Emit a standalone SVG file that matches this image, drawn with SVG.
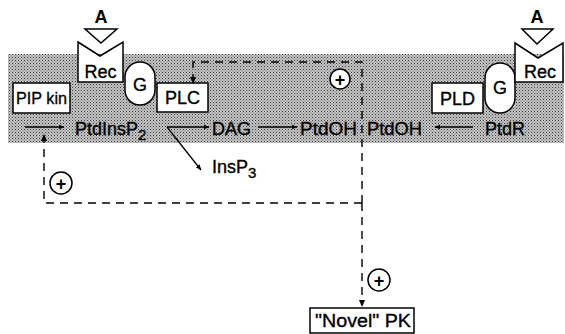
<svg xmlns="http://www.w3.org/2000/svg" width="565" height="334" viewBox="0 0 565 334">
<defs>
<marker id="ah" viewBox="0 0 10 10" refX="9" refY="5" markerWidth="6" markerHeight="6" markerUnits="userSpaceOnUse" orient="auto">
<path d="M0,1 L10,5 L0,9 z" fill="#000"/>
</marker>
<pattern id="dots" width="3" height="3" patternUnits="userSpaceOnUse">
<rect width="3" height="3" fill="#c4c4c4"/>
<rect width="1" height="1" fill="#3a3a3a"/>
<rect x="1.5" y="1.5" width="1" height="1" fill="#666"/>
</pattern>
<style>
text{font-family:"Liberation Sans",Arial,sans-serif;fill:#000}
.box{fill:#fff;stroke:#000;stroke-width:1.5}
.ln{fill:none;stroke:#000;stroke-width:1.3}
.dash{fill:none;stroke:#000;stroke-width:1.4;stroke-dasharray:8 6}
.lbl{font-size:18px;stroke:#000;stroke-width:0.35}
.sm{font-size:16px;stroke:#000;stroke-width:0.3}
.pl{font-size:18px;font-weight:bold}
</style>
</defs>
<rect x="8" y="54" width="556" height="89" fill="url(#dots)"/>

<g id="rec-left">
<path class="box" d="M78,42 L100,56 L123,42 L123,82 L78,82 Z"/>
<text class="lbl" x="100.5" y="78" text-anchor="middle">Rec</text>
</g>
<g id="agonist-left">
<path class="box" d="M85,29 L117,29 L101,43 Z"/>
<text x="101" y="23" font-size="18" font-weight="bold" text-anchor="middle">A</text>
</g>
<g id="g-left">
<rect class="box" x="125" y="62" width="30" height="43" rx="15" ry="15"/>
<text class="lbl" x="140" y="91" text-anchor="middle">G</text>
</g>
<g id="pipkin">
<rect class="box" x="13" y="83" width="57" height="30"/>
<text class="sm" x="41.5" y="104" text-anchor="middle" textLength="51" lengthAdjust="spacingAndGlyphs">PIP kin</text>
</g>
<g id="plc">
<rect class="box" x="157" y="83" width="51" height="29"/>
<text class="lbl" x="182.5" y="104" text-anchor="middle">PLC</text>
</g>
<g id="pld">
<rect class="box" x="432" y="83" width="51" height="30"/>
<text class="lbl" x="457.5" y="105" text-anchor="middle">PLD</text>
</g>
<g id="g-right">
<rect class="box" x="485" y="63" width="30" height="50" rx="15" ry="15"/>
<text class="lbl" x="500" y="94" text-anchor="middle">G</text>
</g>
<g id="rec-right">
<path class="box" d="M515,43 L538,58 L563,43 L563,82 L515,82 Z"/>
<text class="lbl" x="540" y="78" text-anchor="middle">Rec</text>
</g>
<g id="agonist-right">
<path class="box" d="M522,29 L553,29 L537,44 Z"/>
<text x="537" y="23" font-size="18" font-weight="bold" text-anchor="middle">A</text>
</g>

<g id="ptdinsp2"><text class="lbl" x="75" y="135">PtdInsP<tspan font-size="15" dy="5">2</tspan></text></g>
<g id="dag"><text class="lbl" x="212" y="135">DAG</text></g>
<g id="ptdoh1"><text class="lbl" x="300" y="135" textLength="57" lengthAdjust="spacingAndGlyphs">PtdOH</text></g>
<g id="ptdoh2"><text class="lbl" x="367" y="135" textLength="55" lengthAdjust="spacingAndGlyphs">PtdOH</text></g>
<g id="ptdr"><text class="lbl" x="485" y="135">PtdR</text></g>
<g id="insp3"><text class="lbl" x="212" y="173">InsP<tspan font-size="15" dy="5">3</tspan></text></g>
<g id="novelpk">
<rect class="box" x="310" y="308" width="104" height="25"/>
<text class="lbl" x="315" y="327" textLength="96" lengthAdjust="spacingAndGlyphs">"Novel"  PK</text>
</g>
<g id="plus1"><circle cx="340" cy="79" r="10" fill="#fff" stroke="#000" stroke-width="1.5"/><text class="pl" x="340" y="85.5" text-anchor="middle">+</text></g>
<g id="plus2"><circle cx="61" cy="183" r="11" fill="#fff" stroke="#000" stroke-width="1.5"/><text class="pl" x="61" y="189.5" text-anchor="middle">+</text></g>
<g id="plus3"><circle cx="379" cy="280" r="11" fill="#fff" stroke="#000" stroke-width="1.5"/><text class="pl" x="379" y="286.5" text-anchor="middle">+</text></g>

<g id="connectors">
<line class="ln" x1="25" y1="127" x2="64" y2="127" marker-end="url(#ah)"/>
<line class="ln" x1="167" y1="127" x2="209" y2="127" marker-end="url(#ah)"/>
<line class="ln" x1="167" y1="127" x2="201" y2="170" marker-end="url(#ah)"/>
<line class="ln" x1="258" y1="127" x2="297" y2="127" marker-end="url(#ah)"/>
<line class="ln" x1="473" y1="127" x2="435" y2="127" marker-end="url(#ah)"/>
<path class="dash" d="M362,203 L362,62 L193,62 L193,82"/>
<path d="M193,84 L190,77 L196,77 Z" fill="#000"/>
<path class="dash" d="M362,203 L44,203 L44,137"/>
<path d="M44,134 L41,141 L47,141 Z" fill="#000"/>
<path class="dash" d="M362,203 L362,300"/>
<path d="M362,307 L359,300 L365,300 Z" fill="#000"/>
</g>
</svg>
